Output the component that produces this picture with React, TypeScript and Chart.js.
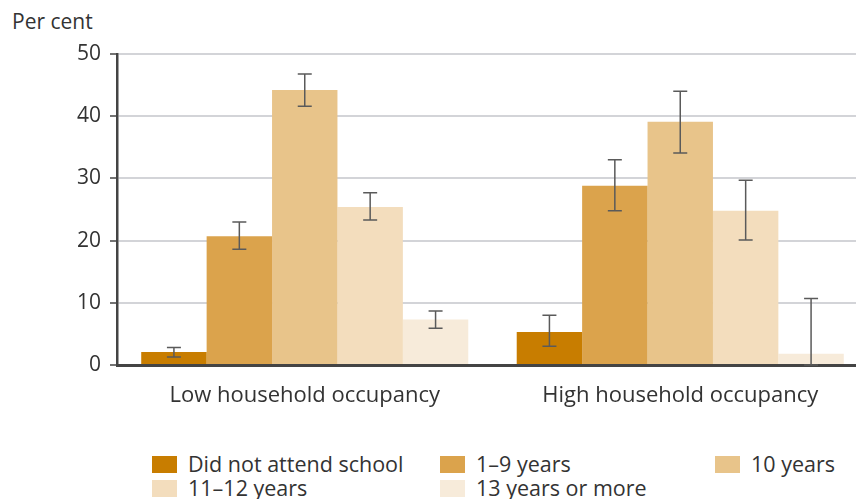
import React, { useEffect, useRef } from "react";
import { Chart, registerables } from "chart.js";

Chart.register(...registerables);

const categories = ["Low household occupancy", "High household occupancy"];
const seriesNames = ["Did not attend school", "1–9 years", "10 years", "11–12 years", "13 years or more"];
const seriesColors = ["#C87D00", "#DBA34C", "#E8C48A", "#F3DDBD", "#F7EBDA"];
const didNotAttend = [2.1, 5.3];
const years1to9 = [20.7, 28.8];
const years10 = [44.2, 39.1];
const years11to12 = [25.4, 24.8];
const years13plus = [7.3, 1.8];
const errLow = [
  [1.3, 3.0],
  [18.6, 24.8],
  [41.6, 34.1],
  [23.3, 20.1],
  [5.9, 0.0],
];
const errHigh = [
  [2.8, 8.0],
  [23.0, 33.0],
  [46.8, 44.0],
  [27.7, 29.7],
  [8.7, 10.7],
];
const yTicks = [0, 10, 20, 30, 40, 50];

const FONT = "'Open Sans', 'Noto Sans', sans-serif";

const errorBarPlugin = {
  id: "errorBars",
  afterDatasetsDraw(chart: any) {
    const ctx = chart.ctx;
    const yScale = chart.scales.y;
    ctx.save();
    ctx.strokeStyle = "#5a5a5a";
    ctx.lineWidth = 1.5;
    chart.data.datasets.forEach((ds: any, di: number) => {
      const meta = chart.getDatasetMeta(di);
      meta.data.forEach((el: any, i: number) => {
        const x = el.x;
        const yH = yScale.getPixelForValue(errHigh[di][i]);
        const yL = yScale.getPixelForValue(errLow[di][i]);
        const cap = 7;
        ctx.beginPath();
        ctx.moveTo(x, yH);
        ctx.lineTo(x, yL);
        ctx.moveTo(x - cap, yH);
        ctx.lineTo(x + cap, yH);
        ctx.moveTo(x - cap, yL);
        ctx.lineTo(x + cap, yL);
        ctx.stroke();
      });
    });
    ctx.restore();
  },
};

export default function App() {
  const ref = useRef<HTMLCanvasElement>(null);
  useEffect(() => {
    if (!ref.current) return;
    const values = [didNotAttend, years1to9, years10, years11to12, years13plus];
    const chart = new Chart(ref.current, {
      type: "bar",
      data: {
        labels: categories,
        datasets: seriesNames.map((name, i) => ({
          label: name,
          data: values[i],
          backgroundColor: seriesColors[i],
          borderWidth: 0,
          barPercentage: 1,
          categoryPercentage: 0.871,
        })),
      },
      options: {
        animation: false,
        responsive: false,
        maintainAspectRatio: false,
        layout: { padding: { top: 54, right: 1, left: 0, bottom: 0 } },
        plugins: { legend: { display: false }, tooltip: { enabled: false } },
        scales: {
          x: {
            grid: { display: false, drawTicks: false },
            border: { display: true, color: "#444444", width: 3 },
            ticks: { color: "#333333", font: { family: FONT, size: 22 }, padding: 18 },
            afterFit: (s: any) => { s.height = 55; },
          },
          y: {
            min: 0,
            max: 50,
            afterBuildTicks: (s: any) => { s.ticks = yTicks.map((v) => ({ value: v })); },
            grid: { color: "#D3D4D8", lineWidth: 2, tickLength: 7, tickColor: "#444444", tickWidth: 1.5 },
            border: { display: true, color: "#444444", width: 2.5 },
            ticks: { color: "#333333", font: { family: FONT, size: 21 }, padding: 9 },
            afterFit: (s: any) => { s.width = 117; },
          },
        },
      },
      plugins: [errorBarPlugin],
    });
    return () => chart.destroy();
  }, []);

  return (
    <div style={{ position: "fixed", left: 0, top: 0, width: 856, height: 499, overflow: "hidden", background: "#fff", fontFamily: FONT, color: "#333" }}>
      <div style={{ position: "absolute", left: 12, top: 7, fontSize: 21 }}>Per cent</div>
      <canvas ref={ref} width={869} height={420} style={{ position: "absolute", left: 0, top: 0 }} />
      <div style={{ position: "absolute", left: 152, top: 452, width: 700, fontSize: 21.5 }}>
        {seriesNames.map((name, i) => {
          const col = i % 3;
          const row = Math.floor(i / 3);
          const lefts = [0, 288, 563];
          return (
            <div key={name} style={{ position: "absolute", left: lefts[col], top: row * 24, display: "flex", alignItems: "center", whiteSpace: "nowrap", lineHeight: "24px" }}>
              <span style={{ display: "inline-block", width: 25, height: 17, background: seriesColors[i], marginRight: 11 }} />
              <span>{name}</span>
            </div>
          );
        })}
      </div>
    </div>
  );
}
